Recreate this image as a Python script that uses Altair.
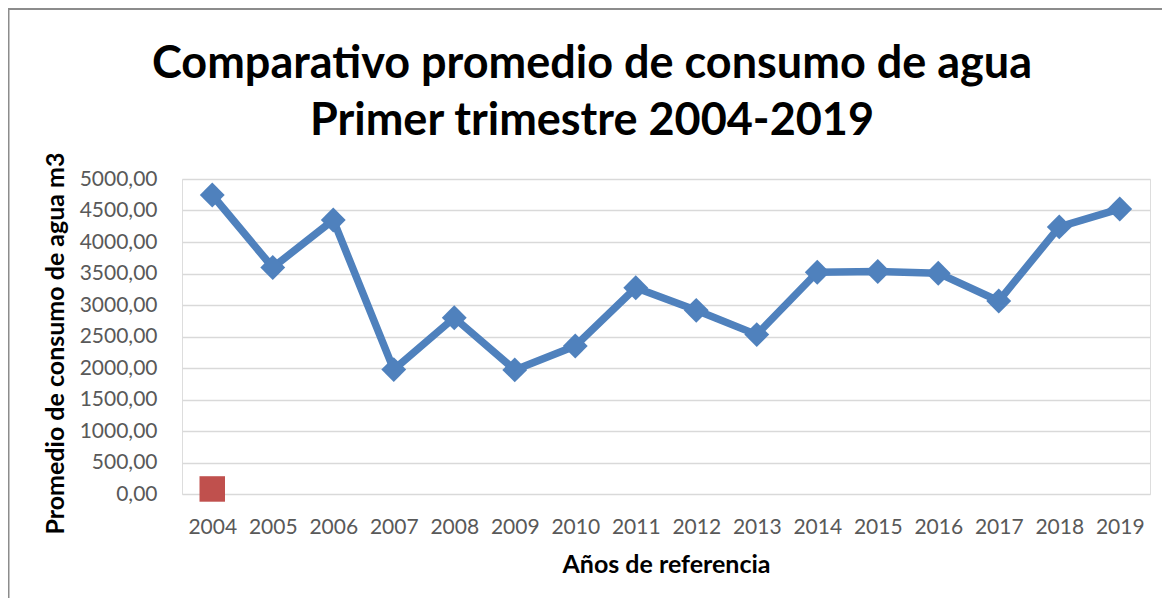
import altair as alt
import pandas as pd

# ---- data ----
years = ["2004", "2005", "2006", "2007", "2008", "2009", "2010", "2011",
         "2012", "2013", "2014", "2015", "2016", "2017", "2018", "2019"]
consumo = [4746, 3595, 4350, 1975, 2798, 1970, 2350, 3273,
           2915, 2530, 3520, 3532, 3505, 3063, 4240, 4525]
serie2_years = ["2004"]
serie2 = [80]
y_ticks = [0, 500, 1000, 1500, 2000, 2500, 3000, 3500, 4000, 4500, 5000]
title_lines = ["Comparativo promedio de consumo de agua", "Primer trimestre 2004-2019"]
x_title = "Años de referencia"
y_title = "Promedio de consumo de agua m3"

df = pd.DataFrame({"anio": years, "valor": consumo})
df2 = pd.DataFrame({"anio": serie2_years, "valor": serie2})
one = pd.DataFrame({"k": [0]})

BLUE = "#4F81BD"
RED = "#C0504D"
FONT = "Lato"

x_enc = alt.X(
    "anio:N",
    sort=years,
    scale=alt.Scale(type="point", padding=0.5, domain=years),
    axis=alt.Axis(
        title=x_title, titleFont=FONT, titleFontSize=25, titleFontWeight="bold",
        titleColor="#000000", titleX=484, titleY=78, titleBaseline="alphabetic",
        titleAlign="center", titleAnchor="middle",
        labelFont=FONT, labelFontSize=21, labelColor="#595959", labelAngle=0,
        labelPadding=22, ticks=False, tickSize=0, domain=False, grid=False,
    ),
)
y_enc = alt.Y(
    "valor:Q",
    scale=alt.Scale(domain=[0, 5000], nice=False, zero=True),
    axis=alt.Axis(
        values=y_ticks,
        labelExpr="replace(format(datum.value, '.2f'), '.', ',')",
        title=y_title, titleFont=FONT, titleFontSize=25, titleFontWeight="bold",
        titleColor="#000000", titleAngle=-90, titleX=-119, titleY=164,
        titleAlign="center", titleBaseline="alphabetic", titleAnchor="middle",
        labelFont=FONT, labelFontSize=21, labelColor="#595959",
        labelPadding=25, ticks=False, tickSize=0, domain=False,
        grid=True, gridColor="#D9D9D9", gridWidth=1.6,
    ),
)

line = alt.Chart(df).mark_line(color=BLUE, strokeWidth=7.5, strokeJoin="round").encode(x=x_enc, y=y_enc)
pts = alt.Chart(df).mark_point(shape="diamond", filled=True, size=620, color=BLUE, opacity=1).encode(x=x_enc, y=y_enc)
red = alt.Chart(df2).mark_point(shape="square", filled=True, size=650, color=RED, opacity=1).encode(x=x_enc, y=y_enc)

t1 = alt.Chart(one).mark_text(font=FONT, fontSize=45, fontWeight="bold", color="#000000",
                              align="center", baseline="alphabetic").encode(
    x=alt.value(410), y=alt.value(-101), text=alt.value(title_lines[0]))
t2 = alt.Chart(one).mark_text(font=FONT, fontSize=45, fontWeight="bold", color="#000000",
                              align="center", baseline="alphabetic").encode(
    x=alt.value(410), y=alt.value(-44), text=alt.value(title_lines[1]))

border_left = alt.Chart(one).mark_rule(color="#8C8C8C", strokeWidth=2).encode(
    x=alt.value(-173.5), y=alt.value(-170), y2=alt.value(430))
border_top = alt.Chart(one).mark_rule(color="#8C8C8C", strokeWidth=2).encode(
    x=alt.value(-174), x2=alt.value(1010), y=alt.value(-170))

chart = alt.layer(border_left, border_top, line, pts, red, t1, t2).properties(
    width=968, height=315,
    padding={"left": 174, "top": 171, "right": 12, "bottom": 104},
    autosize=alt.AutoSizeParams(type="none"),
).configure_view(stroke=None).configure(background="#FFFFFF")

chart.save("out.html", embed_options={"renderer": "svg", "actions": False})
